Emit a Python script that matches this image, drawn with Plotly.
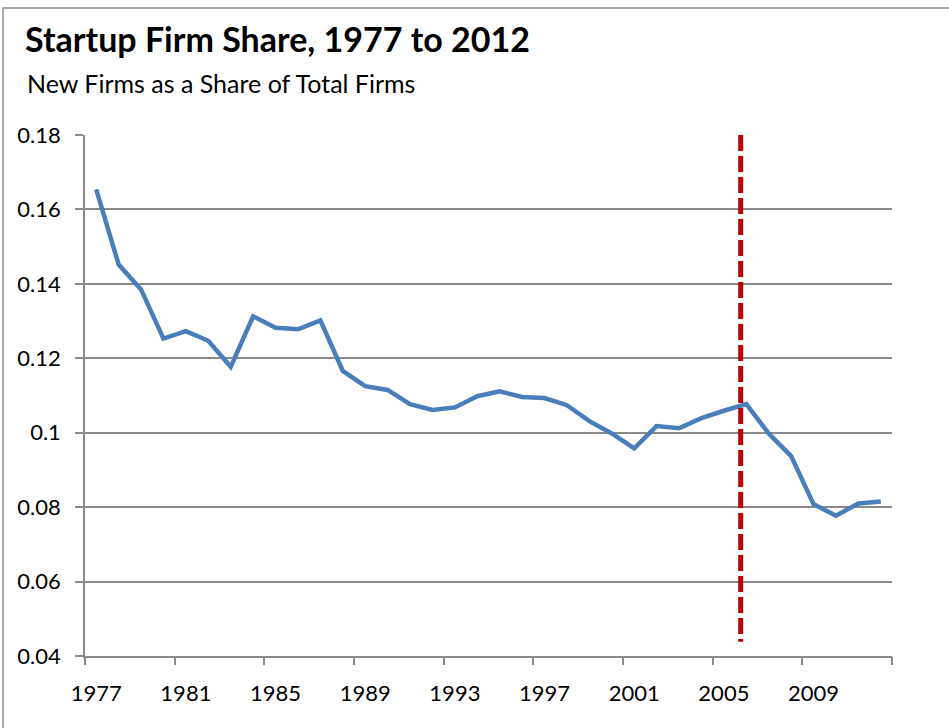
import plotly.graph_objects as go

years = list(range(1977, 2013))
startup_share = [
    0.1654, 0.1452, 0.1385, 0.1253, 0.1273, 0.1247, 0.1177, 0.1313, 0.1282, 0.1278,
    0.1302, 0.1166, 0.1125, 0.1115, 0.1077, 0.1061, 0.1068, 0.1098, 0.1111, 0.1096,
    0.1093, 0.1074, 0.1031, 0.0998, 0.0958, 0.1018, 0.1012, 0.1039, 0.1059, 0.1077,
    0.0998, 0.0937, 0.0808, 0.0777, 0.0810, 0.0815,
]
x_label_years = [1977, 1981, 1985, 1989, 1993, 1997, 2001, 2005, 2009]
y_tick_vals = [0.04, 0.06, 0.08, 0.10, 0.12, 0.14, 0.16, 0.18]
y_tick_text = ["0.04", "0.06", "0.08", "0.1", "0.12", "0.14", "0.16", "0.18"]
marker_year = 2005.75
marker_span = [0.18, 0.0438]

title_text = "Startup Firm Share, 1977 to 2012"
subtitle_text = "New Firms as a Share of Total Firms"

W, H = 949, 728
ml, mr, mt, mb = 85, 57, 135, 72
pw, ph = W - ml - mr, H - mt - mb

def px_x(p):
    return (p - ml) / pw

def px_y(p):
    return (H - mb - p) / ph

FONT = "Lato, 'Open Sans', sans-serif"
GRID = "#8a8a8a"

x_lo, x_hi = years[0] - 0.5, years[-1] + 0.5
boundary_ticks = [x_lo + 4 * i for i in range(int((x_hi - x_lo) / 4) + 1)]

fig = go.Figure()
fig.add_trace(go.Scatter(
    x=years, y=startup_share, mode="lines",
    line=dict(color="#4a7ebb", width=4.5), hoverinfo="x+y", showlegend=False,
))
fig.add_trace(go.Scatter(
    x=[marker_year, marker_year], y=marker_span, mode="lines",
    line=dict(color="#c00000", width=5, dash="16px,5px"), showlegend=False,
))
# invisible trace to anchor the boundary-tick axis
fig.add_trace(go.Scatter(x=[x_lo, x_hi], y=[None, None], xaxis="x2", showlegend=False,
                         hoverinfo="skip"))

fig.update_layout(
    width=W, height=H,
    margin=dict(l=ml, r=mr, t=mt, b=mb),
    paper_bgcolor="white", plot_bgcolor="white",
    font=dict(family=FONT, color="black"),
    xaxis=dict(
        range=[x_lo, x_hi], tickmode="array", tickvals=x_label_years,
        ticktext=[str(y) for y in x_label_years], ticks="",
        showgrid=False, zeroline=False, showline=True, linecolor=GRID, linewidth=1.5,
        tickfont=dict(size=22, family=FONT, color="black"), ticklabelstandoff=17,
    ),
    xaxis2=dict(
        overlaying="x", side="bottom", range=[x_lo, x_hi], tickmode="array",
        tickvals=boundary_ticks, showticklabels=False, ticks="outside", ticklen=8,
        tickcolor=GRID, tickwidth=1.5, showgrid=False, zeroline=False, showline=False,
        anchor="y",
    ),
    yaxis=dict(
        range=[0.04, 0.18], tickmode="array", tickvals=y_tick_vals, ticktext=y_tick_text,
        ticks="outside", ticklen=8, tickcolor=GRID, tickwidth=1.5,
        showgrid=True, gridcolor=GRID, gridwidth=1.5, zeroline=False,
        showline=True, linecolor=GRID, linewidth=1.5,
        tickfont=dict(size=22, family=FONT, color="black"), ticklabelstandoff=10,
    ),
    annotations=[
        dict(text="<b>" + title_text + "</b>", xref="paper", yref="paper",
             x=px_x(23), y=px_y(16), xanchor="left", yanchor="top", showarrow=False,
             font=dict(size=34, family=FONT, color="black")),
        dict(text=subtitle_text, xref="paper", yref="paper",
             x=px_x(25), y=px_y(66), xanchor="left", yanchor="top", showarrow=False,
             font=dict(size=25, family=FONT, color="black")),
    ],
    shapes=[
        dict(type="rect", xref="paper", yref="paper",
             x0=px_x(3), x1=px_x(W + 20), y0=px_y(H + 20), y1=px_y(8),
             line=dict(color="#8c8c8c", width=1.5), fillcolor="rgba(0,0,0,0)", layer="below"),
    ],
)

fig.write_html("out.html", config={"displayModeBar": False},
               post_script="document.body.style.margin='0';")
